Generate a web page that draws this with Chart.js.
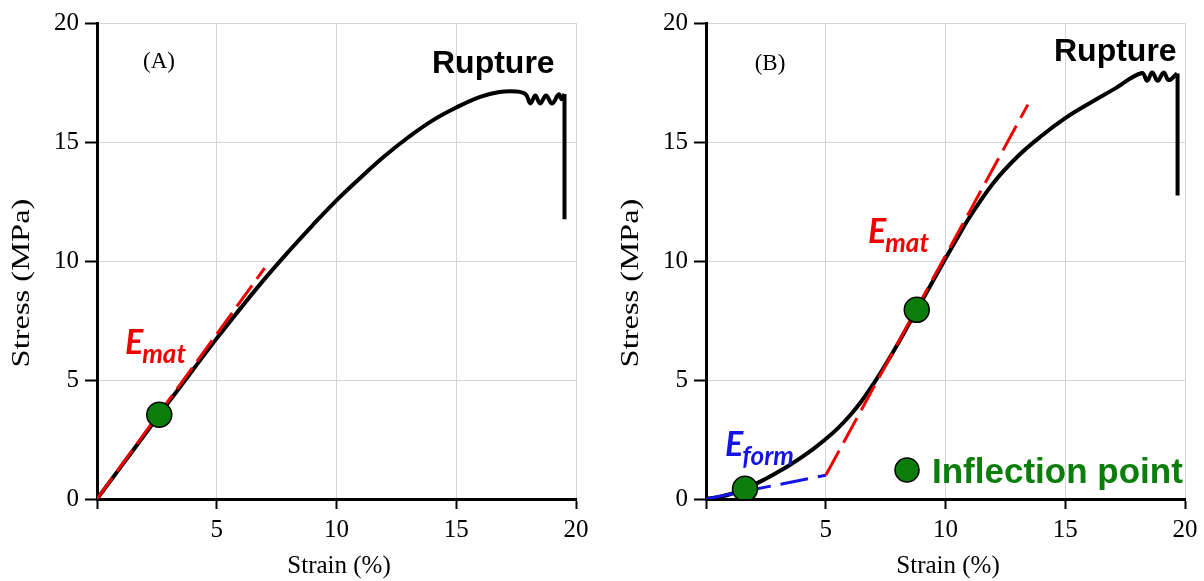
<!DOCTYPE html>
<html>
<head>
<meta charset="utf-8">
<script src="https://cdn.jsdelivr.net/npm/chart.js@4.4.1/dist/chart.umd.min.js"></script>
<style>
  html, body { margin: 0; padding: 0; background: #fff; }
  .panel { position: absolute; top: 0; width: 595px; height: 581px; }
  #panel-a { left: 0; }
  #panel-b { left: 609px; }
</style>
</head>
<body>
<div class="panel" id="panel-a"><canvas id="chart-a" width="595" height="581"></canvas></div>
<div class="panel" id="panel-b"><canvas id="chart-b" width="595" height="581"></canvas></div>
<script>
// ---- data (strain %, stress MPa) ----
const xTicks = [0, 5, 10, 15, 20];

// (A) curve
const strainA = [0, 1, 2, 3, 4, 5, 6, 7, 8, 9, 10, 11, 12, 13, 14, 15, 16, 16.8, 17.5, 17.9, 18.1, 18.3, 18.5, 18.75, 19.0, 19.28, 19.4, 19.52];
const stressA = [0, 1.36, 2.72, 4.08, 5.42, 6.75, 8.02, 9.25, 10.4, 11.5, 12.55, 13.5, 14.4, 15.2, 15.9, 16.45, 16.9, 17.1, 17.12, 17.0, 16.62, 16.95, 16.62, 16.95, 16.62, 17.0, 16.8, 17.02];
const dropStrainA = [19.52, 19.52];
const dropStressA = [17.02, 11.75];
const ematStrainA = [0, 7.0];
const ematStressA = [0, 9.7];
const inflStrainA = [2.6];
const inflStressA = [3.54];

// (B) curve
const strainB = [0, 0.5, 1, 1.63, 2.5, 3, 3.5, 4, 4.5, 5, 5.5, 6, 6.5, 7, 7.5, 8, 8.5, 9, 9.5, 10, 10.5, 11, 12, 13, 14, 15, 16, 17, 18.2, 18.42, 18.63, 18.86, 19.11, 19.32, 19.67];
const stressB = [0, 0.08, 0.2, 0.43, 0.85, 1.13, 1.43, 1.76, 2.12, 2.52, 2.97, 3.5, 4.12, 4.85, 5.65, 6.5, 7.4, 8.3, 9.2, 10.1, 10.98, 11.83, 13.28, 14.38, 15.25, 16.0, 16.62, 17.2, 17.9, 17.57, 17.92, 17.57, 17.92, 17.6, 17.88];
const dropStrainB = [19.69, 19.69];
const dropStressB = [17.88, 12.75];
const ematStrainB = [5, 13.44];
const ematStressB = [1.0, 16.57];
const eformStrainB = [0, 5];
const eformStressB = [0, 1.0];
const inflStrainB = [1.63, 8.8];
const inflStressB = [0.43, 7.95];

const SERIF = '"Liberation Serif", "Times New Roman", serif';
const SANS = '"Liberation Sans", Arial, sans-serif';
const RED = '#f20000';
const BLUE = '#1414e6';
const GREEN = '#0a7d0a';

function pts(xs, ys) {
    return xs.map((x, i) => ({ x: x, y: ys[i] }));
}

function curve(xs, ys, color, width, dash, tension) {
    return {
        data: pts(xs, ys),
        showLine: true,
        borderColor: color,
        borderWidth: width,
        borderDash: dash,
        tension: tension,
        pointRadius: 0,
        pointHoverRadius: 0,
        borderCapStyle: 'butt'
    };
}

function dots(xs, ys) {
    return {
        data: pts(xs, ys),
        showLine: false,
        pointRadius: 12.5,
        pointHoverRadius: 12.5,
        pointBackgroundColor: GREEN,
        pointBorderColor: '#000',
        pointBorderWidth: 1.5
    };
}

function makeScales() {
    return {
        x: {
            type: 'linear', min: 0, max: 20,
            afterBuildTicks: s => { s.ticks = xTicks.map(v => ({ value: v })); },
            ticks: {
                color: '#000', padding: 6, maxRotation: 0,
                font: { family: SERIF, size: 25 },
                callback: v => v === 0 ? '' : v
            },
            grid: { color: '#d6d6d6', lineWidth: 1, tickLength: 10, tickColor: '#000', tickWidth: 2 },
            border: { color: '#000', width: 3 },
            afterFit: s => { s.height = 82; }
        },
        y: {
            type: 'linear', min: 0, max: 20,
            afterBuildTicks: s => { s.ticks = xTicks.map(v => ({ value: v })); },
            ticks: { color: '#000', padding: 6, font: { family: SERIF, size: 25 } },
            grid: { color: '#d6d6d6', lineWidth: 1, tickLength: 12, tickColor: '#000', tickWidth: 2 },
            border: { color: '#000', width: 3 },
            afterFit: s => { s.width = 97; }
        }
    };
}

function subLabel(ctx, main, sub, x, y, subY, color, size, subSize) {
    ctx.fillStyle = color;
    ctx.textAlign = 'left';
    ctx.textBaseline = 'alphabetic';
    ctx.font = 'italic bold ' + size + 'px Lato, ' + SANS;
    ctx.fillText(main, x, y);
    const w = ctx.measureText(main).width;
    ctx.font = 'italic bold ' + subSize + 'px Lato, ' + SANS;
    ctx.fillText(sub, x + w - 1, subY);
}

// axis titles, panel letter, rupture label and the modulus labels
function decor(extra) {
    return {
        id: 'decor',
        afterDraw(chart) {
            const ctx = chart.ctx;
            ctx.save();
            ctx.fillStyle = '#000';
            ctx.font = '25px ' + SERIF;
            ctx.textAlign = 'center';
            ctx.textBaseline = 'alphabetic';
            ctx.fillText('Strain (%)', 339, 573);

            ctx.save();
            ctx.translate(29, 283);
            ctx.rotate(-Math.PI / 2);
            ctx.scale(1.3, 1);
            ctx.fillText('Stress (MPa)', 0, 0);
            ctx.restore();

            extra(ctx);
            ctx.restore();
        }
    };
}

function baseOptions() {
    return {
        responsive: false,
        animation: false,
        layout: { padding: { top: 23, right: 19, left: 0, bottom: 0 } },
        scales: makeScales(),
        plugins: { legend: { display: false }, tooltip: { enabled: false } },
        events: []
    };
}

new Chart(document.getElementById('chart-a'), {
    type: 'scatter',
    data: {
        datasets: [
            dots(inflStrainA, inflStressA),
            curve(ematStrainA, ematStressA, RED, 3, [26, 8], 0),
            curve(strainA, stressA, '#000', 4, [], 0.4),
            curve(dropStrainA, dropStressA, '#000', 4, [], 0)
        ]
    },
    options: baseOptions(),
    plugins: [decor(ctx => {
        ctx.font = '23px ' + SERIF;
        ctx.textAlign = 'center';
        ctx.fillText('(A)', 159, 68);
        ctx.font = 'bold 32px ' + SANS;
        ctx.textAlign = 'left';
        ctx.fillText('Rupture', 432, 73);
        subLabel(ctx, 'E', 'mat', 125, 354, 363, RED, 34, 26);
    })]
});

new Chart(document.getElementById('chart-b'), {
    type: 'scatter',
    data: {
        datasets: [
            dots(inflStrainB, inflStressB),
            curve(ematStrainB, ematStressB, RED, 3, [28, 9], 0),
            curve(eformStrainB, eformStressB, BLUE, 3, [28, 10], 0),
            curve(strainB, stressB, '#000', 4, [], 0.4),
            curve(dropStrainB, dropStressB, '#000', 4, [], 0)
        ]
    },
    options: baseOptions(),
    plugins: [decor(ctx => {
        ctx.font = '23px ' + SERIF;
        ctx.textAlign = 'center';
        ctx.fillText('(B)', 161, 70);
        ctx.font = 'bold 32px ' + SANS;
        ctx.textAlign = 'left';
        ctx.fillText('Rupture', 445, 61);
        subLabel(ctx, 'E', 'mat', 259, 243, 252, RED, 34, 26);
        subLabel(ctx, 'E', 'form', 116, 456, 465, BLUE, 34, 26);
        // legend marker
        ctx.beginPath();
        ctx.arc(298, 470, 12, 0, Math.PI * 2);
        ctx.fillStyle = GREEN;
        ctx.fill();
        ctx.lineWidth = 1.5;
        ctx.strokeStyle = '#000';
        ctx.stroke();
        ctx.fillStyle = GREEN;
        ctx.font = 'bold 35px ' + SANS;
        ctx.fillText('Inflection point', 323, 483);
    })]
});
</script>
</body>
</html>
